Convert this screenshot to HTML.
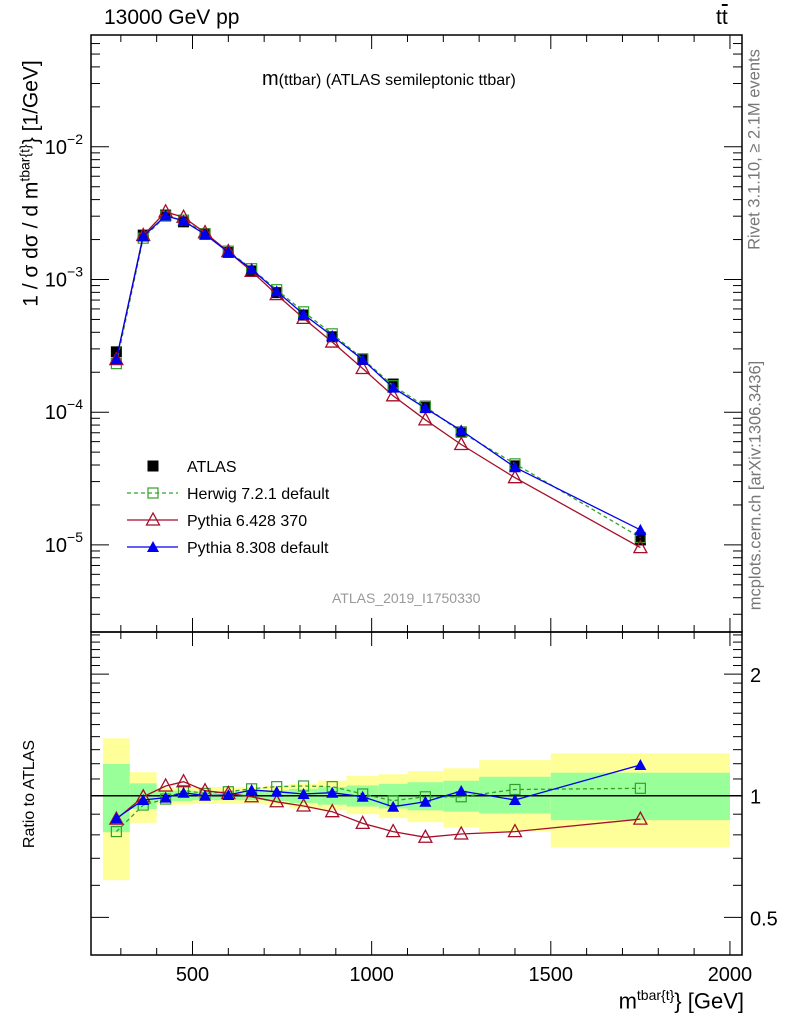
<!DOCTYPE html>
<html><head><meta charset="utf-8"><style>
body{margin:0;background:#fff;}
svg{display:block;font-family:"Liberation Sans",Arial,sans-serif;}
</style></head><body>
<svg id="c" width="786" height="1024" viewBox="0 0 786 1024" xmlns="http://www.w3.org/2000/svg"></svg>
<script>
const binLo=[250,325,400,450,500,570,630,700,770,850,930,1020,1100,1200,1300,1500];
const binHi=[325,400,450,500,570,630,700,770,850,930,1020,1100,1200,1300,1500,2000];
const atlas=[2.85e-4,2.16e-3,3.06e-3,2.72e-3,2.19e-3,1.6e-3,1.16e-3,7.96e-4,5.4e-4,3.7e-4,2.5e-4,1.63e-4,1.11e-4,7.1e-5,3.94e-5,1.09e-5];
const herwigR=[0.815,0.948,0.981,1.03,1.013,1.023,1.04,1.053,1.057,1.053,1.01,0.972,0.994,0.994,1.036,1.043];
const py6R=[0.875,0.994,1.057,1.083,1.029,1.013,0.994,0.966,0.943,0.913,0.854,0.815,0.789,0.804,0.815,0.875];
const py8R=[0.879,0.976,0.989,1.017,1.0,1.004,1.033,1.023,1.01,1.017,0.994,0.939,0.966,1.027,0.976,1.191];
const yelHi=[1.387,1.143,1.05,1.05,1.05,1.05,1.05,1.06,1.07,1.09,1.12,1.13,1.15,1.169,1.225,1.273];
const yelLo=[0.618,0.857,0.95,0.95,0.955,0.955,0.955,0.95,0.93,0.92,0.9,0.88,0.86,0.835,0.815,0.745];
const grnHi=[1.198,1.073,1.03,1.03,1.025,1.025,1.025,1.03,1.04,1.05,1.06,1.07,1.08,1.089,1.114,1.14];
const grnLo=[0.812,0.927,0.97,0.97,0.975,0.975,0.975,0.97,0.96,0.95,0.94,0.93,0.92,0.913,0.904,0.87];
const xTicks=[500,1000,1500,2000];
const ratioTicks=[0.5,1,2];

const NS="http://www.w3.org/2000/svg";
const svg=document.getElementById('c');
function el(tag,attrs,parent){const e=document.createElementNS(NS,tag);for(const k in attrs)e.setAttribute(k,attrs[k]);(parent||svg).appendChild(e);return e;}
const L=91,R=742,T=35,MB=632,RB=955;
const X=m=>192.5+(m-500)*0.3583;
const Y=v=>279.5-(Math.log10(v)+3)*132.7;
const YR=r=>795.7-Math.log10(r)*404;
const mid=binLo.map((l,i)=>(l+binHi[i])/2);

const bands=el('g',{});


binLo.forEach((l,i)=>{
  const y=el('rect',{x:X(l),y:YR(yelHi[i]),width:X(binHi[i])-X(l),height:YR(yelLo[i])-YR(yelHi[i]),fill:'#ffff99'},bands);
  
  
  const g=el('rect',{x:X(l),y:YR(grnHi[i]),width:X(binHi[i])-X(l),height:YR(grnLo[i])-YR(grnHi[i]),fill:'#99ff99'},bands);
  
  
});
const one=el('line',{x1:L,x2:R,y1:YR(1),y2:YR(1),stroke:'#000','stroke-width':1.5});



function marker(g,type,x,y,col){
  if(type==='sq'){el('rect',{x:x-5,y:y-5,width:10,height:10,fill:'none',stroke:col,'stroke-width':1.2},g);}
  else if(type==='fsq'){el('rect',{x:x-5.5,y:y-5.5,width:11,height:11,fill:col},g);}
  else if(type==='tri'){el('polygon',{points:`${x},${y-7} ${x-6.5},${y+5} ${x+6.5},${y+5}`,fill:'none',stroke:col,'stroke-width':1.3},g);}
  else {el('polygon',{points:`${x},${y-6} ${x-6},${y+5} ${x+6},${y+5}`,fill:col},g);}
}
function series(name,vals,fy,col,type,dash){
  const g=el('g',{});
  
  
  const pts=vals.map((v,i)=>X(mid[i]).toFixed(1)+','+fy(v).toFixed(1)).join(' ');
  if(col)el('polyline',{points:pts,fill:'none',stroke:col,'stroke-width':1.3,'stroke-dasharray':dash||'none'},g);
  vals.forEach((v,i)=>marker(g,type,X(mid[i]),fy(v),col||'#000'));
}
series('atlas-data',atlas,Y,null,'fsq');
series('herwig-series',atlas.map((a,i)=>a*herwigR[i]),Y,'#33a02c','sq','4,3');
series('pythia6-series',atlas.map((a,i)=>a*py6R[i]),Y,'#a50f2a','tri');
series('pythia8-series',atlas.map((a,i)=>a*py8R[i]),Y,'#0000ee','ftri');
series('herwig-ratio',herwigR,YR,'#33a02c','sq','4,3');
series('pythia6-ratio',py6R,YR,'#a50f2a','tri');
series('pythia8-ratio',py8R,YR,'#0000ee','ftri');

[[T,MB],[MB,RB]].forEach(([a,b],k)=>{
  const f=el('rect',{x:L,y:a,width:R-L,height:b-a,fill:'none',stroke:'#000','stroke-width':1.5});
  
  
  for(let m=300;m<=2000;m+=100){
    const len=(m%500===0)?14:7;
    el('line',{x1:X(m),x2:X(m),y1:a,y2:a+len,stroke:'#000'});
    el('line',{x1:X(m),x2:X(m),y1:b,y2:b-len,stroke:'#000'});
  }
});
for(let e=-6;e<=-1;e++)for(let d=1;d<10;d++){
  const v=d*Math.pow(10,e);const y=Y(v);if(y<T||y>MB)continue;
  const len=d===1?18:9;
  el('line',{x1:L,x2:L+len,y1:y,y2:y,stroke:'#000'});
  el('line',{x1:R,x2:R-len,y1:y,y2:y,stroke:'#000'});
}
[-2,-3,-4,-5].forEach(e=>{
  const t=el('text',{x:L-8,y:Y(Math.pow(10,e))+7,'text-anchor':'end','font-size':20});
  
  
  t.innerHTML=`10<tspan dy="-10" font-size="14">&#8722;${-e}</tspan>`;
});
// ratio ticks
for(let k=4;k<=26;k++){
  const r=k/10;
  const y=YR(r);if(y<MB+1||y>RB-1)continue;
  const maj=(k===5||k===10||k===20);
  const len=maj?18:9;
  el('line',{x1:L,x2:L+len,y1:y,y2:y,stroke:'#000'});
  el('line',{x1:R,x2:R-len,y1:y,y2:y,stroke:'#000'});
}
ratioTicks.forEach(r=>{
  const t=el('text',{x:750,y:YR(r)+8,'font-size':20});
  
  
  t.textContent=String(r);
});
xTicks.forEach(m=>{
  const t=el('text',{x:X(m),y:981,'text-anchor':'middle','font-size':20});
  
  
  t.textContent=m;
});
const leg=el('g',{});


const entries=[['ATLAS',null,'fsq'],['Herwig 7.2.1 default','#33a02c','sq','4,3'],['Pythia 6.428 370','#a50f2a','tri'],['Pythia 8.308 default','#0000ee','ftri']];
entries.forEach((e,i)=>{
  const g=el('g',{},leg);
  
  
  const y=466+i*27;
  if(e[1])el('line',{x1:127,x2:178,y1:y,y2:y,stroke:e[1],'stroke-width':1.3,'stroke-dasharray':e[3]||'none'},g);
  marker(g,e[2],153,y,e[1]||'#000');
  const t=el('text',{x:187,y:y+6,'font-size':16},g);t.textContent=e[0];
});
</script>
<div style="position:absolute;left:0;top:0;width:786px;height:1024px;font-family:'Liberation Sans',Arial,sans-serif;pointer-events:none">
<div style="position:absolute;left:104px;top:6px;font-size:21px">13000 GeV pp</div>
<div style="position:absolute;left:716px;top:6px;font-size:21px">t<span style="text-decoration:overline">t</span></div>
<div style="position:absolute;left:262px;top:68px;font-size:20px">m<span style="font-size:16px">(ttbar) (ATLAS semileptonic ttbar)</span></div>
<div style="position:absolute;left:332px;top:590px;font-size:14px;color:#999">ATLAS_2019_I1750330</div>
<div style="position:absolute;left:-185px;top:170px;width:430px;text-align:center;transform:rotate(-90deg);font-size:21px;white-space:nowrap">1 / σ dσ / d m<sup style="font-size:14px">tbar{t}</sup>} [1/GeV]</div>
<div style="position:absolute;left:-30px;top:785px;width:120px;text-align:center;transform:rotate(-90deg);font-size:16px;white-space:nowrap">Ratio to ATLAS</div>
<div style="position:absolute;right:42px;top:987px;font-size:22px">m<sup style="font-size:14px">tbar{t}</sup>} [GeV]</div>
<div style="position:absolute;left:640px;top:140px;width:230px;text-align:center;transform:rotate(-90deg);font-size:16.5px;color:#777;white-space:nowrap">Rivet 3.1.10, ≥ 2.1M events</div>
<div style="position:absolute;left:596px;top:476px;width:320px;text-align:center;transform:rotate(-90deg);font-size:16.5px;color:#777;white-space:nowrap">mcplots.cern.ch [arXiv:1306.3436]</div>
</div>
</body></html>
